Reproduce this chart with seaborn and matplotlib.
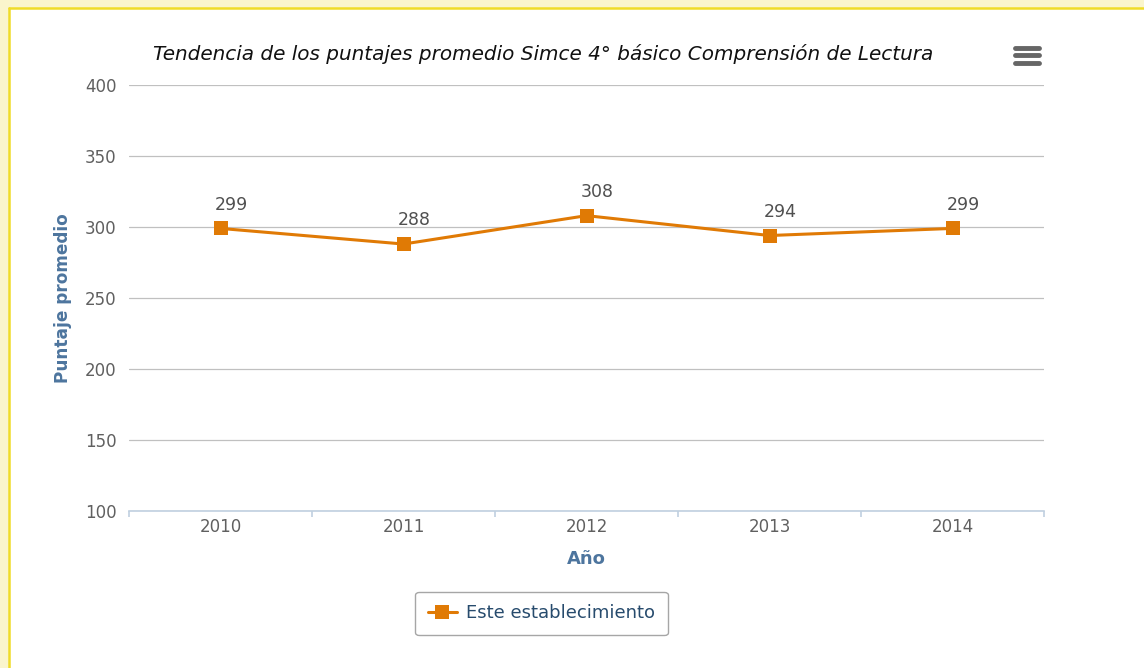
import pandas as pd
import matplotlib.pyplot as plt
import seaborn as sns
from matplotlib.patches import Rectangle

# datos
anios = ['2010', '2011', '2012', '2013', '2014']
puntajes = [299, 288, 308, 294, 299]
serie = 'Este establecimiento'
yticks = [100, 150, 200, 250, 300, 350, 400]

df = pd.DataFrame({'anio': anios, 'puntaje': puntajes, 'serie': serie})

sns.set_style('white')
plt.rcParams['font.family'] = ['DejaVu Sans']

naranja = '#E07A05'
gris_txt = '#606060'
azul_tit = '#4D759E'

fig = plt.figure(figsize=(11.44, 6.68), dpi=100)
fig.patch.set_facecolor('#FAF5CC')
# marco blanco con borde amarillo
fig.patches.append(Rectangle((9 / 1144, 0), 1.0, 1 - 8 / 668, transform=fig.transFigure,
                             facecolor='white', edgecolor='none', zorder=-10))
fig.add_artist(plt.Line2D([9 / 1144, 9 / 1144], [0, 1 - 8 / 668], transform=fig.transFigure,
                          color='#F0DC28', lw=1.8))
fig.add_artist(plt.Line2D([9 / 1144, 1], [1 - 8 / 668, 1 - 8 / 668], transform=fig.transFigure,
                          color='#F0DC28', lw=1.8))

ax = fig.add_axes([129 / 1144, 1 - 511 / 668, (1044 - 129) / 1144, (511 - 85) / 668])
ax.set_facecolor('none')

sns.lineplot(data=df, x='anio', y='puntaje', hue='serie', palette=[naranja], marker='s',
             markersize=9.5, markeredgewidth=0, linewidth=2.2, ax=ax, legend=False, zorder=3)

ax.set_xlim(-0.5, 4.5)
ax.set_ylim(100, 400)
ax.set_yticks(yticks)
ax.yaxis.grid(True, color='#C0C0C0', lw=0.9)
ax.set_axisbelow(True)
for s in ['top', 'right', 'left']:
    ax.spines[s].set_visible(False)
ax.spines['bottom'].set_color('#C0D0E0')
ax.spines['bottom'].set_linewidth(1.2)
ax.spines['bottom'].set_zorder(2)

ax.set_xticks(range(len(anios)))
ax.set_xticklabels(anios)
ax.set_xticks([i - 0.5 for i in range(len(anios) + 1)], minor=True)
ax.tick_params(axis='x', which='major', bottom=True, length=0, pad=5, labelsize=12,
               labelcolor=gris_txt)
ax.tick_params(axis='x', which='minor', bottom=True, length=4, width=1.2, color='#C0D0E0',
               direction='out')
ax.tick_params(axis='y', length=0, pad=9, labelsize=12, labelcolor=gris_txt)

ax.set_xlabel('Año', fontsize=13, fontweight='bold', color=azul_tit, labelpad=10)
ax.set_ylabel('Puntaje promedio', fontsize=12.2, fontweight='bold', color=azul_tit, labelpad=9)

# etiquetas de datos
for i, v in enumerate(puntajes):
    ax.annotate(str(v), (i, v), xytext=(8, 17), textcoords='offset points',
                ha='center', va='center', fontsize=12.5, color='#505050')

fig.text(543 / 1144, 1 - 54 / 668,
         'Tendencia de los puntajes promedio Simce 4° básico Comprensión de Lectura',
         ha='center', va='center', fontsize=14.4, style='italic', color='#111111')

# icono de menú
for yy in [47.5, 54.5, 62.5]:
    fig.add_artist(plt.Line2D([1015 / 1144, 1039 / 1144], [1 - yy / 668, 1 - yy / 668],
                              transform=fig.transFigure, color='#666666', lw=3.5,
                              solid_capstyle='round'))

h = plt.Line2D([], [], color=naranja, marker='s', markersize=9.5, markeredgewidth=0, lw=2.2)
leg = fig.legend([h], [serie], loc='center', bbox_to_anchor=(541.5 / 1144, 1 - 613.5 / 668),
                 fontsize=13, frameon=True, fancybox=True, edgecolor='#909090',
                 handlelength=1.6, handletextpad=0.5, borderpad=0.7)
leg.get_frame().set_linewidth(1.0)
for t in leg.get_texts():
    t.set_color('#274B6D')

fig.savefig('out.png', dpi=100, facecolor=fig.get_facecolor())
